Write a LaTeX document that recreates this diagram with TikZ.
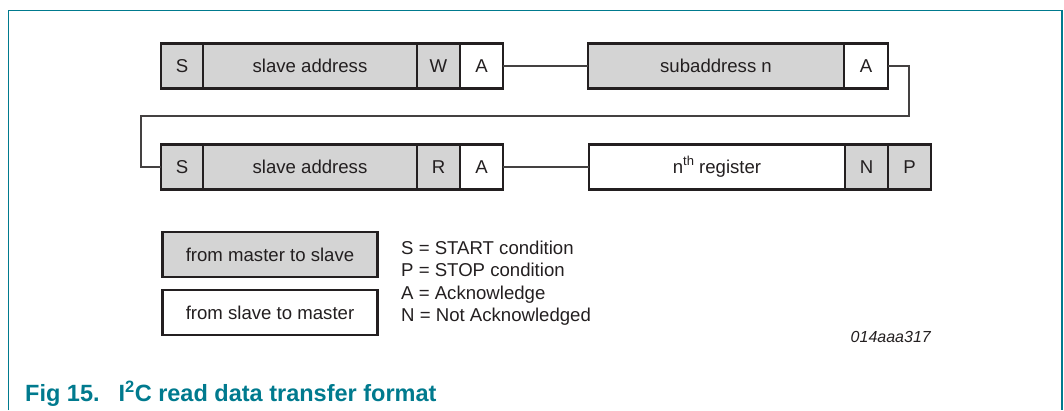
\documentclass[tikz,border=0pt]{standalone}
\usepackage{fontspec}
\setmainfont{Liberation Sans}
\definecolor{nxpteal}{RGB}{0,122,142}
\definecolor{ink}{RGB}{35,31,32}
\definecolor{cellgray}{RGB}{212,212,212}
\begin{document}
\begin{tikzpicture}[x=1pt,y=-1pt,
  cell/.style={draw=ink, line width=2.2pt, inner sep=0pt, outer sep=0pt,
    minimum height=45pt, text=ink, font=\fontsize{18.6}{20}\selectfont},
  m2s/.style={cell, fill=cellgray},
  s2m/.style={cell, fill=white},
  conn/.style={draw=ink!85, line width=1.1pt},
  legtext/.style={anchor=base west, inner sep=0pt, text=ink, font=\fontsize{18.6}{20}\selectfont},
  frame/.style={draw=nxpteal, line width=1.6pt}]
\useasboundingbox (0,0) rectangle (1064,410);
\draw[frame] (8.5,410) -- (8.5,10.5) -- (1062,10.5) -- (1062,410);

% row 1
\node[m2s, minimum width=42pt]  (s1)  at (182,66)   {S};
\node[m2s, minimum width=214pt] (ad1) at (310,66)   {slave address};
\node[m2s, minimum width=43pt]  (w1)  at (438.5,66) {W};
\node[s2m, minimum width=43pt]  (a1)  at (481.5,66) {A};
\node[m2s, minimum width=256pt] (sub) at (716,66)   {subaddress n};
\node[s2m, minimum width=44pt]  (a2)  at (866,66)   {A};

% row 2
\node[m2s, minimum width=42pt]  (s2)  at (182,167)   {S};
\node[m2s, minimum width=214pt] (ad2) at (310,167)   {slave address};
\node[m2s, minimum width=43pt]  (r2)  at (438.5,167) {R};
\node[s2m, minimum width=43pt]  (a3)  at (481.5,167) {A};
\node[s2m, minimum width=256pt] (reg) at (717,167)   {n\raisebox{0.42em}{\fontsize{13}{13}\selectfont th} register};
\node[m2s, minimum width=43pt]  (n2)  at (866.5,167) {N};
\node[m2s, minimum width=43pt]  (p2)  at (909.5,167) {P};

% connectors
\coordinate (t1) at (909,116);
\coordinate (t2) at (141,116);
\draw[conn] (a1.east) -- (sub.west);
\draw[conn] (a2.east) -| (t1) -- (t2) |- (s2.west);
\draw[conn] (a3.east) -- (reg.west);

% legend
\node[m2s, minimum width=215pt, minimum height=44.5pt] (lgm) at (270,254.5) {from master to slave};
\node[s2m, minimum width=215pt, minimum height=44.5pt] (lgs) at (270,312.5) {from slave to master};
\node[legtext] (ls) at (401,254.7) {S = START condition};
\node[legtext] (lp) at (401,276.7) {P = STOP condition};
\node[legtext] (la) at (401,299.7) {A = Acknowledge};
\node[legtext] (ln) at (401,321.7) {N = Not Acknowledged};

\node[anchor=east, inner sep=0pt, text=ink, font=\itshape\fontsize{16}{18}\selectfont] (code) at (931,337) {014aaa317};

\node[anchor=base west, inner sep=0pt, text=nxpteal, font=\bfseries\fontsize{23.5}{25}\selectfont] (cap) at (25,401.5)
  {Fig 15.\hspace{19pt}I\textsuperscript{2}C read data transfer format};
\end{tikzpicture}
\end{document}
